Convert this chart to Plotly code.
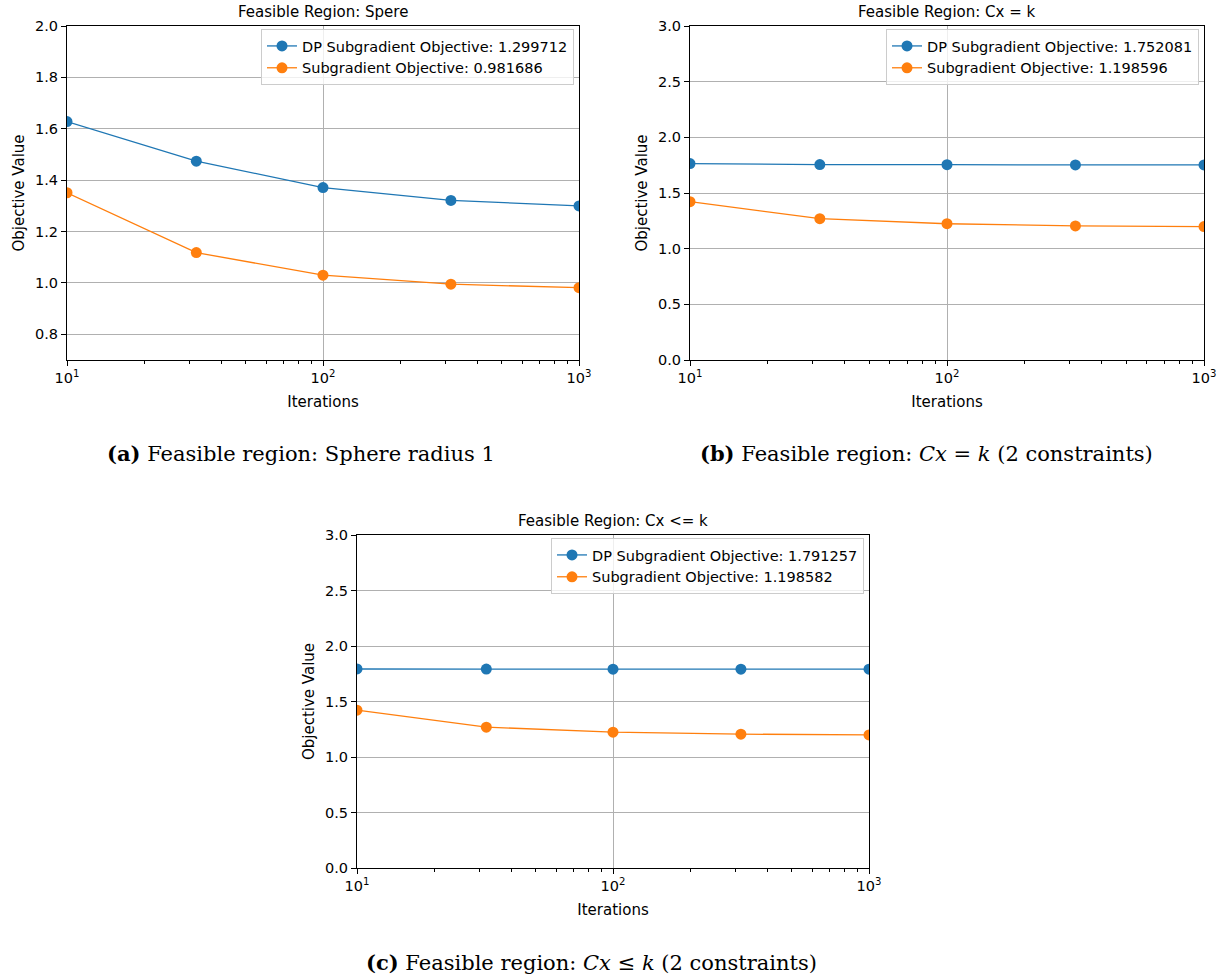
import plotly.graph_objects as go

iterations = [10, 32, 100, 316, 1000]

# Panel (a): Sphere
a_dp = [1.628, 1.474, 1.371, 1.321, 1.299712]
a_sub = [1.351, 1.118, 1.030, 0.995, 0.981686]
# Panel (b): Cx = k
b_dp = [1.764, 1.755, 1.754, 1.752, 1.752081]
b_sub = [1.422, 1.269, 1.224, 1.204, 1.198596]
# Panel (c): Cx <= k
c_dp = [1.793, 1.792, 1.791, 1.791, 1.791257]
c_sub = [1.422, 1.269, 1.224, 1.206, 1.198582]

dp_names = ["DP Subgradient Objective: 1.299712",
            "DP Subgradient Objective: 1.752081",
            "DP Subgradient Objective: 1.791257"]
sub_names = ["Subgradient Objective: 0.981686",
             "Subgradient Objective: 1.198596",
             "Subgradient Objective: 1.198582"]
titles = ["Feasible Region: Spere", "Feasible Region: Cx = k", "Feasible Region: Cx <= k"]
captions = ["<b>(a)</b> Feasible region: Sphere radius 1",
            "<b>(b)</b> Feasible region: <i>Cx</i> = <i>k</i> (2 constraints)",
            "<b>(c)</b> Feasible region: <i>Cx</i> ≤ <i>k</i> (2 constraints)"]

yranges = [[0.7, 2.0], [0.0, 3.0], [0.0, 3.0]]
ydticks = [0.2, 0.5, 0.5]
ytick0 = [0.8, 0.0, 0.0]

W, H = 1227, 980
# plot boxes in pixels (left, right, top, bottom)
boxes = [(67, 579, 26, 360), (690, 1204, 26, 360), (357, 869, 535, 868)]

BLUE = "#1f77b4"
ORANGE = "#ff7f0e"
SANS = "DejaVu Sans"

fig = go.Figure()
series = [(a_dp, a_sub), (b_dp, b_sub), (c_dp, c_sub)]
minor_vals = [20, 30, 40, 50, 60, 70, 80, 90, 200, 300, 400, 500, 600, 700, 800, 900]

for i, (dp, sub) in enumerate(series):
    n = "" if i == 0 else str(i + 1)
    leg = "legend" if i == 0 else f"legend{i+1}"
    fig.add_trace(go.Scatter(x=iterations, y=dp, mode="lines+markers", name=dp_names[i],
                             line=dict(color=BLUE, width=1.3, simplify=False),
                             marker=dict(size=11, color=BLUE),
                             xaxis="x" + n, yaxis="y" + n, legend=leg))
    fig.add_trace(go.Scatter(x=iterations, y=sub, mode="lines+markers", name=sub_names[i],
                             line=dict(color=ORANGE, width=1.3, simplify=False),
                             marker=dict(size=11, color=ORANGE),
                             xaxis="x" + n, yaxis="y" + n, legend=leg))
    l, r, t, b = boxes[i]
    xd = [l / W, r / W]
    yd = [1 - b / H, 1 - t / H]
    axkey = "xaxis" if i == 0 else f"xaxis{i+1}"
    aykey = "yaxis" if i == 0 else f"yaxis{i+1}"
    fig.update_layout(**{
        axkey: dict(domain=xd, anchor="y" + n, type="log", range=[1, 3], automargin=False,
                    tickvals=[10, 100, 1000],
                    ticktext=["10<sup>1</sup>", "10<sup>2</sup>", "10<sup>3</sup>"],
                    ticks="outside", ticklen=5, tickcolor="black",
                    showline=True, linecolor="black", linewidth=1, mirror=True,
                    showgrid=True, gridcolor="#b0b0b0", gridwidth=1,
                    minor=dict(tickvals=minor_vals, ticks="outside", ticklen=3,
                               tickcolor="black", showgrid=False),
                    tickfont=dict(family=SANS, size=14.5, color="black"),
                    title=dict(text="Iterations", font=dict(family=SANS, size=15, color="black"),
                               standoff=11),
                    zeroline=False),
        aykey: dict(domain=yd, anchor="x" + n, range=yranges[i], automargin=False,
                    tick0=ytick0[i], dtick=ydticks[i], tickformat=".1f",
                    ticks="outside", ticklen=5, tickcolor="black",
                    showline=True, linecolor="black", linewidth=1, mirror=True,
                    showgrid=True, gridcolor="#b0b0b0", gridwidth=1,
                    tickfont=dict(family=SANS, size=14.5, color="black"),
                    title=dict(text="Objective Value", font=dict(family=SANS, size=15, color="black"),
                               standoff=6),
                    zeroline=False),
        leg: dict(x=(r - 5) / W, y=1 - (t + 3) / H, xanchor="right", yanchor="top",
                  bgcolor="rgba(255,255,255,0.8)", bordercolor="#cccccc", borderwidth=1,
                  font=dict(family=SANS, size=14.5, color="black"),
                  tracegroupgap=0, itemwidth=30),
    })
    fig.add_annotation(text=titles[i], x=(l + r) / 2 / W, y=1 - (t - 14) / H,
                       xref="paper", yref="paper", showarrow=False,
                       xanchor="center", yanchor="middle",
                       font=dict(family=SANS, size=15, color="black"))

cap_pos = [(301, 453), (926, 453), (591, 962)]
for (cx, cy), txt in zip(cap_pos, captions):
    fig.add_annotation(text=txt, x=cx / W, y=1 - cy / H, xref="paper", yref="paper",
                       showarrow=False, xanchor="center", yanchor="middle",
                       font=dict(family="DejaVu Serif", size=21, color="black"))

fig.update_layout(width=W, height=H, margin=dict(l=0, r=0, t=0, b=0, autoexpand=False),
                  paper_bgcolor="white", plot_bgcolor="white", showlegend=True)

fig.write_html("out.html", config={"displayModeBar": False},
               post_script="document.body.style.margin='0';document.body.style.padding='0';")
